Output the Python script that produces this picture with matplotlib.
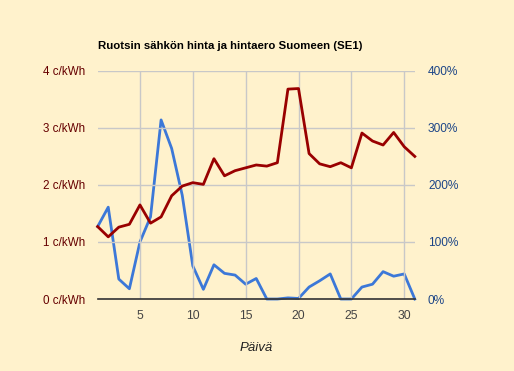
import matplotlib.pyplot as plt
import numpy as np

plt.rcParams['font.family'] = ['Liberation Sans', 'DejaVu Sans']

days = np.arange(1, 32)
price = [1.27, 1.09, 1.26, 1.31, 1.65, 1.33, 1.44, 1.81, 1.98, 2.04,
         2.01, 2.46, 2.16, 2.25, 2.30, 2.35, 2.33, 2.39, 3.68, 3.69,
         2.55, 2.37, 2.32, 2.39, 2.30, 2.91, 2.77, 2.70, 2.92, 2.67, 2.50]
diff = [127, 161, 35, 18, 100, 144, 314, 264, 182, 58,
        17, 60, 45, 42, 26, 36, 0, 0, 2, 1,
        21, 32, 44, 0, 0, 21, 26, 48, 40, 44, 0]

left_ticks = [0, 1, 2, 3, 4]
left_labels = ['%d c/kWh' % v for v in left_ticks]
right_ticks = [0, 100, 200, 300, 400]
right_labels = ['%d%%' % v for v in right_ticks]
x_ticks = [5, 10, 15, 20, 25, 30]

bg = '#FFF2CC'
fig = plt.figure(figsize=(5.14, 3.71), dpi=100, facecolor=bg)
ax = fig.add_axes([0.190, 0.194, 0.617, 0.615])
ax.set_facecolor(bg)
ax2 = ax.twinx()

ax.set_xlim(1, 31)
ax.set_ylim(0, 4)
ax2.set_ylim(0, 400)

ax.grid(True, color='#C8C8C8', linewidth=1)
ax.set_axisbelow(True)
ax.set_xticks(x_ticks)
ax.set_yticks(left_ticks)
ax.set_yticklabels(left_labels, color='#660000', fontsize=8.4)
ax2.set_yticks(right_ticks)
ax2.set_yticklabels(right_labels, color='#1C4587', fontsize=8.6)
ax.tick_params(axis='x', colors='#444444', labelsize=8.8, length=0, pad=8)
ax.tick_params(axis='y', length=0, pad=9)
ax2.tick_params(axis='y', length=0, pad=9.5)

ax2.plot(days, diff, color='#3C78D8', linewidth=2, zorder=3, clip_on=False)
ax.plot(days, price, color='#990000', linewidth=2, zorder=4, clip_on=False)
ax.set_zorder(ax2.get_zorder() + 1)
ax.patch.set_visible(False)
ax2.patch.set_visible(True)
ax2.patch.set_facecolor(bg)

for a in (ax, ax2):
    for s in ['top', 'left', 'right', 'bottom']:
        a.spines[s].set_visible(False)
ax.spines['bottom'].set_visible(True)
ax.spines['bottom'].set_color('#333333')
ax.spines['bottom'].set_linewidth(1.2)

ax.set_xlabel('Päivä', style='italic', fontsize=9.5, color='#222222', labelpad=14)
fig.text(0.190, 0.875, 'Ruotsin sähkön hinta ja hintaero Suomeen (SE1)',
         fontsize=8.2, fontweight='bold', color='black', va='center')

fig.savefig('out.png', dpi=100, facecolor=bg)
